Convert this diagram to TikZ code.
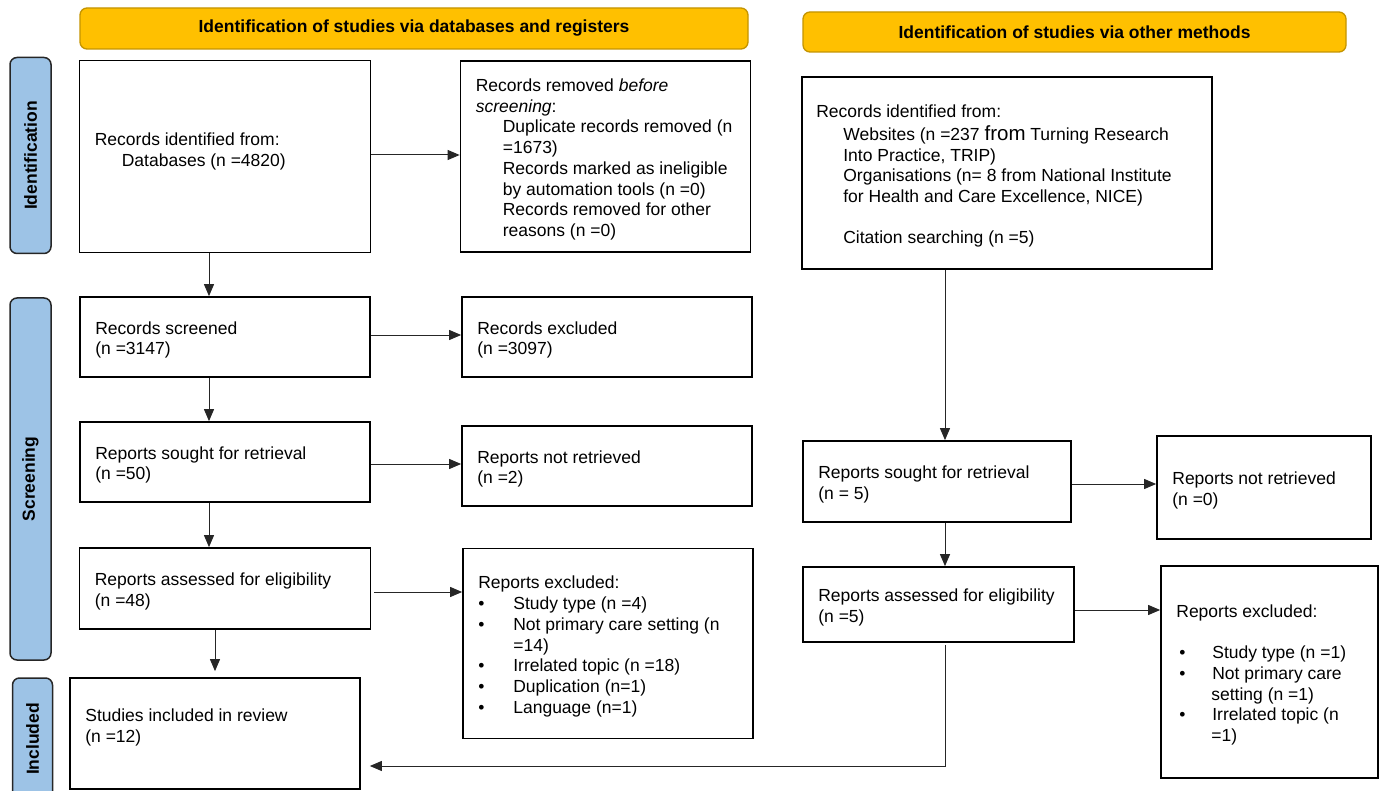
\documentclass[tikz,border=0pt]{standalone}
\usepackage{fontspec}
\setmainfont{Liberation Sans}
\usetikzlibrary{arrows.meta}
\definecolor{hdrfill}{RGB}{255,192,0}
\definecolor{hdrdraw}{RGB}{196,148,0}
\definecolor{sidefill}{RGB}{157,195,230}
\newcommand\pbul{\makebox[35pt][l]{\textbullet}}
\newcommand\pind{\hspace*{35pt}}
\newcommand\sind{\hspace*{27pt}}
\begin{document}
\begin{tikzpicture}[x=1pt,y=-1pt,
  every node/.style={font=\fontsize{17.5}{20.7}\selectfont},
  box/.style={draw=black, line width=1.7pt, inner sep=0pt, fill=white},
  txt/.style={anchor=west, align=left, inner sep=0pt},
  hdr/.style={draw=hdrdraw, line width=1.3pt, fill=hdrfill, rounded corners=7pt, inner sep=0pt, font=\fontsize{17.5}{20.7}\selectfont\bfseries},
  side/.style={draw=black!85, line width=1.5pt, fill=sidefill, rounded corners=7pt, inner sep=0pt, rotate=90, font=\fontsize{17.5}{20.7}\selectfont\bfseries},
  arr/.style={-{Triangle[length=12pt,width=10pt]}, line width=1pt, draw=black!85}
]
\useasboundingbox (0,0) rectangle (1383,791);

% headers
\node[hdr, minimum width=668pt, minimum height=41pt] (h1) at (414,28.5) {Identification of studies via databases and registers};
\node[hdr, minimum width=543pt, minimum height=40pt] (h2) at (1074.5,32) {Identification of studies via other methods};

% side labels
\node[side, minimum width=196pt, minimum height=41pt] (s1) at (30.5,155.5) {Identification};
\node[side, minimum width=362pt, minimum height=41pt] (s2) at (30.5,479) {Screening};
\node[side, minimum width=122pt, minimum height=40pt] (s3) at (32.5,739) {Included};

% left column boxes
\node[box, minimum width=291pt, minimum height=192pt] (b1) at (225,156.5) {};
\node[txt] (b1t) at (b1.west) [xshift=16pt, yshift=5pt] {Records identified from:\\ \sind Databases (n =4820)};

\node[box, minimum width=290pt, minimum height=191pt] (b2) at (605.5,156.5) {};
\node[txt] (b2t) at (b2.west) [xshift=16pt, yshift=-3pt] {Records removed \textit{before}\\ \textit{screening}:\\ \sind Duplicate records removed (n\\ \sind =1673)\\ \sind Records marked as ineligible\\ \sind by automation tools (n =0)\\ \sind Records removed for other\\ \sind reasons (n =0)};

\node[box, minimum width=290pt, minimum height=80pt] (scr) at (225,337) {};
\node[txt] (scrt) at (scr.west) [xshift=16pt, yshift=-3pt] {Records screened\\ (n =3147)};

\node[box, minimum width=290pt, minimum height=80pt] (exc) at (607,337) {};
\node[txt] (exct) at (exc.west) [xshift=16pt, yshift=-3pt] {Records excluded\\ (n =3097)};

\node[box, minimum width=290pt, minimum height=80pt] (sl) at (225,462) {};
\node[txt] (slt) at (sl.west) [xshift=16pt, yshift=-3pt] {Reports sought for retrieval\\ (n =50)};

\node[box, minimum width=290pt, minimum height=80pt] (nl) at (607,466) {};
\node[txt] (nlt) at (nl.west) [xshift=16pt, yshift=-3pt] {Reports not retrieved\\ (n =2)};

\node[box, minimum width=291pt, minimum height=81pt] (al) at (225,588.5) {};
\node[txt] (alt) at (al.west) [xshift=16pt, yshift=-3pt] {Reports assessed for eligibility\\ (n =48)};

\node[box, minimum width=290pt, minimum height=190pt] (el) at (608,643.5) {};
\node[txt] (elt) at (el.west) [xshift=16pt, yshift=-3pt] {Reports excluded:\\ \pbul Study type (n =4)\\ \pbul Not primary care setting (n\\ \pind =14)\\ \pbul Irrelated topic (n =18)\\ \pbul Duplication (n=1)\\ \pbul Language (n=1)};

\node[box, minimum width=290pt, minimum height=111pt] (inc) at (215,733.5) {};
\node[txt] (inct) at (inc.west) [xshift=16pt, yshift=6pt] {Studies included in review\\ (n =12)};

% right column boxes
\node[box, minimum width=410pt, minimum height=192pt] (b3) at (1007,173) {};
\node[txt] (b3t) at (b3.west) [xshift=15pt, yshift=-3pt] {Records identified from:\\[2pt] \sind Websites (n =237 {\fontsize{20.5}{20.7}\selectfont from} Turning Research\\ \sind Into Practice, TRIP)\\ \sind Organisations (n= 8 from National Institute\\ \sind for Health and Care Excellence, NICE)\\[20pt] \sind Citation searching (n =5)};

\node[box, minimum width=268pt, minimum height=81pt] (sr) at (937,481.5) {};
\node[txt] (srt) at (sr.west) [xshift=16pt, yshift=-3pt] {Reports sought for retrieval\\ (n = 5)};

\node[box, minimum width=214pt, minimum height=103pt] (nr) at (1264,487.5) {};
\node[txt] (nrt) at (nr.west) [xshift=16pt, yshift=-3pt] {Reports not retrieved\\ (n =0)};

\node[box, minimum width=271pt, minimum height=75pt] (ar) at (938.5,604.5) {};
\node[txt] (art) at (ar.west) [xshift=16pt, yshift=-3pt] {Reports assessed for eligibility\\ (n =5)};

\node[box, minimum width=217pt, minimum height=212pt] (er) at (1269.5,672) {};
\node[txt] (ert) at (er.west) [xshift=16pt, yshift=-3pt] {Reports excluded:\\[20.7pt] \hspace*{3pt}\makebox[33pt][l]{\textbullet}Study type (n =1)\\ \hspace*{3pt}\makebox[33pt][l]{\textbullet}Not primary care\\ \pind setting (n =1)\\ \hspace*{3pt}\makebox[33pt][l]{\textbullet}Irrelated topic (n\\ \pind =1)};

% connector reference coordinates
\coordinate (xa) at (209,0);
\coordinate (xb) at (215,0);
\coordinate (xr) at (945,0);
\coordinate (y1) at (0,155);
\coordinate (y2) at (0,335);
\coordinate (y3) at (0,464);
\coordinate (y4) at (0,592);
\coordinate (y5) at (0,484);
\coordinate (y6) at (0,610);
\coordinate (y7) at (0,766);

% horizontal connectors
\draw[arr] (b1.east |- y1) -- (b2.west |- y1);
\draw[arr] (scr.east |- y2) -- (exc.west |- y2);
\draw[arr] (sl.east |- y3) -- (nl.west |- y3);
\draw[arr, shorten <=3pt] (al.east |- y4) -- (el.west |- y4);
\draw[arr] (sr.east |- y5) -- (nr.west |- y5);
\draw[arr] (ar.east |- y6) -- (er.west |- y6);

% vertical connectors
\draw[arr] (b1.south -| xa) -- (scr.north -| xa);
\draw[arr] (scr.south -| xa) -- (sl.north -| xa);
\draw[arr] (sl.south -| xa) -- (al.north -| xa);
\draw[arr, shorten >=6pt] (al.south -| xb) -- (inc.north -| xb);
\draw[arr] (b3.south -| xr) -- (sr.north -| xr);
\draw[arr] (sr.south -| xr) -- (ar.north -| xr);
\draw[arr, shorten <=2pt, shorten >=9pt] (ar.south -| xr) |- (inc.east |- y7);
\end{tikzpicture}
\end{document}
